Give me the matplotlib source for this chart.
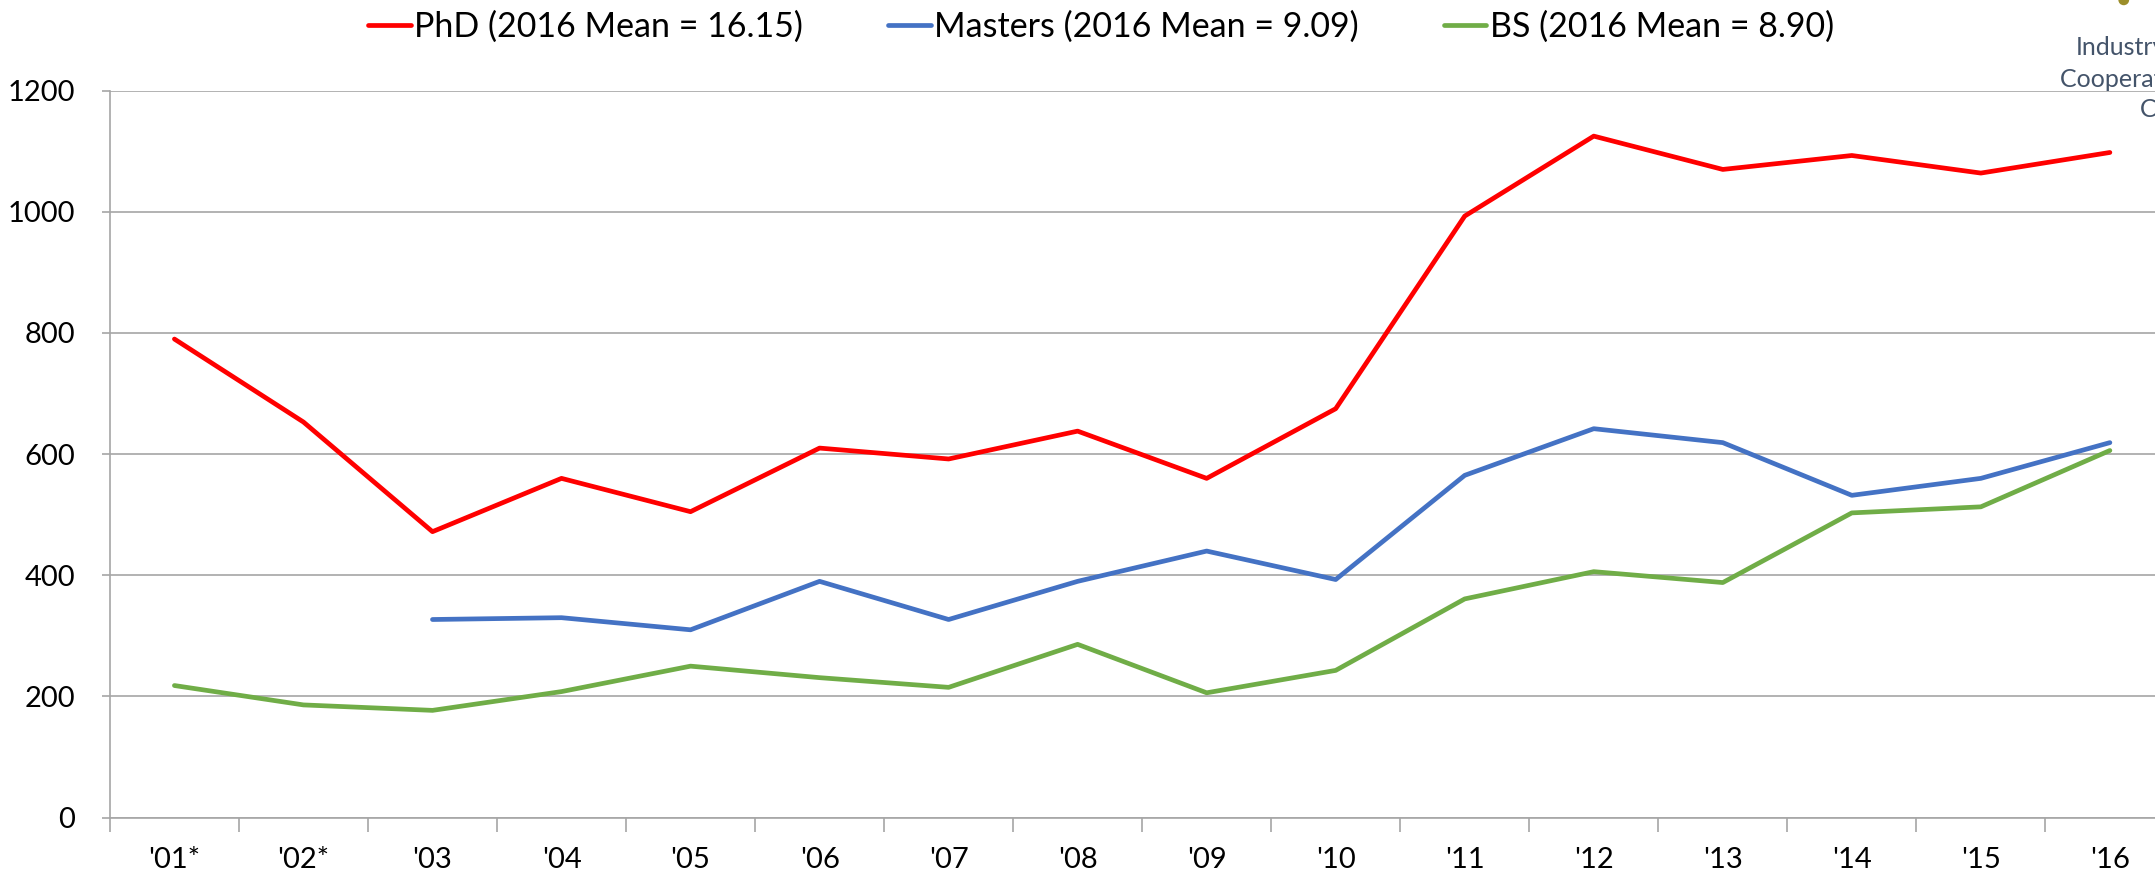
import numpy as np
import matplotlib
matplotlib.use("Agg")
import matplotlib.pyplot as plt
from matplotlib.patches import Ellipse

years = ["'01*", "'02*", "'03", "'04", "'05", "'06", "'07", "'08",
         "'09", "'10", "'11", "'12", "'13", "'14", "'15", "'16"]
phd = [790, 653, 472, 560, 505, 610, 592, 638, 560, 675, 993, 1125, 1070, 1093, 1064, 1098]
masters = [np.nan, np.nan, 327, 330, 310, 390, 327, 390, 440, 393, 565, 642, 619, 532, 560, 619]
bs = [218, 186, 177, 208, 250, 231, 215, 286, 206, 243, 361, 406, 388, 503, 513, 606]
labels = ["PhD (2016 Mean = 16.15)", "Masters (2016 Mean = 9.09)", "BS (2016 Mean = 8.90)"]
colors = ["#FF0000", "#4472C4", "#70AD47"]

plt.rcParams["font.family"] = ["Lato", "DejaVu Sans"]

fig = plt.figure(figsize=(21.55, 8.72), dpi=100)
ax = fig.add_axes([0.051, 0.0624, 0.958, 0.8336])

x = np.arange(len(years))
lines = []
for y, c, lab in zip([phd, masters, bs], colors, labels):
    l, = ax.plot(x, y, color=c, linewidth=3.4, label=lab,
                 solid_capstyle="round", solid_joinstyle="round")
    lines.append(l)

ax.set_xlim(-0.5, len(years) - 0.5)
ax.set_ylim(0, 1200)
ax.set_yticks(np.arange(0, 1201, 200))
ax.grid(axis="y", color="#A6A6A6", linewidth=1.2)
ax.set_axisbelow(True)

ax.set_xticks(x)
ax.set_xticklabels(years, fontsize=21)
ax.set_xticks(np.arange(-0.5, len(years), 1), minor=True)
ax.tick_params(axis="x", which="major", length=0, pad=21)
ax.tick_params(axis="x", which="minor", length=10, color="#A6A6A6", width=1.2)
ax.tick_params(axis="y", length=6, color="#A6A6A6", width=1.2, pad=19, labelsize=21)

for s in ["top", "right"]:
    ax.spines[s].set_visible(False)
for s in ["left", "bottom"]:
    ax.spines[s].set_color("#A6A6A6")
    ax.spines[s].set_linewidth(1.2)

fig.legend(handles=lines, loc="center", bbox_to_anchor=(0.511, 0.969), ncol=3,
           frameon=False, fontsize=24.5, handlelength=1.25, handletextpad=0.1,
           columnspacing=2.5)

# partially visible logo caption at the top right corner
fig.text(0.9633, 0.945, "Industry/University", fontsize=18, color="#44546A",
         ha="left", va="center")
fig.text(0.9559, 0.909, "Cooperative Research", fontsize=18, color="#44546A",
         ha="left", va="center")
fig.text(0.9930, 0.874, "Centers", fontsize=18, color="#44546A",
         ha="left", va="center")
fig.patches.append(Ellipse((0.9855, 1.0), 0.005, 0.012, transform=fig.transFigure,
                           facecolor="#9C8E2A", edgecolor="none"))

fig.savefig("out.png", dpi=100)
